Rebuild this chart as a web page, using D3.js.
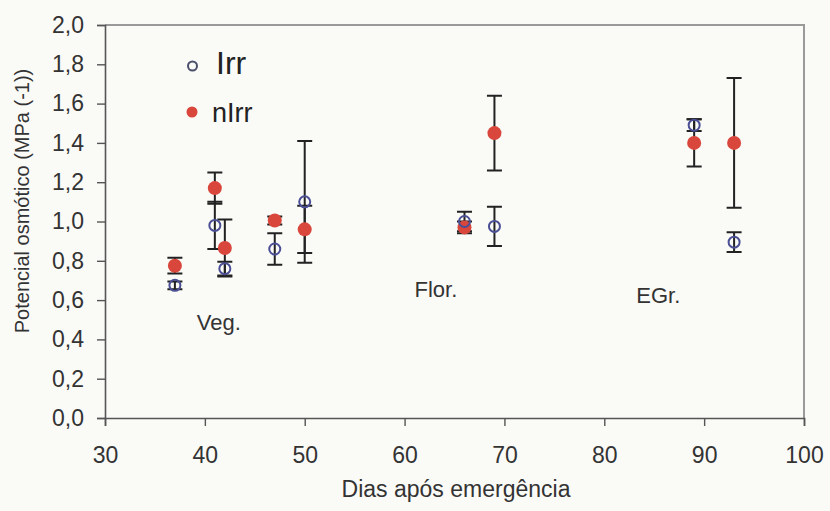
<!DOCTYPE html>
<html>
<head>
<meta charset="utf-8">
<script src="https://cdn.jsdelivr.net/npm/d3@7"></script>
<style>
  html, body { margin: 0; padding: 0; background: #fafaf7; }
  svg { display: block; font-family: "Liberation Sans", Arial, sans-serif; }
</style>
</head>
<body>
<svg id="chart" width="830" height="511"></svg>
<script>
// Osmotic potential by days after emergence, irrigated vs non-irrigated
const irrDays   = [37, 41, 42, 47, 50, 66, 69, 89, 93];
const irrMean   = [0.675, 0.98, 0.76, 0.86, 1.10, 1.00, 0.975, 1.49, 0.895];
const irrErr    = [0.02, 0.12, 0.035, 0.08, 0.31, 0.05, 0.10, 0.03, 0.05];

const nirrDays  = [37, 41, 42, 47, 50, 66, 69, 89, 93];
const nirrMean  = [0.775, 1.17, 0.865, 1.005, 0.96, 0.97, 1.45, 1.40, 1.40];
const nirrErr   = [0.04, 0.08, 0.145, 0.02, 0.12, 0.03, 0.19, 0.12, 0.33];

const xTicks = [30, 40, 50, 60, 70, 80, 90, 100];
const yTicks = [0, 0.2, 0.4, 0.6, 0.8, 1.0, 1.2, 1.4, 1.6, 1.8, 2.0];

const stages = [
  { label: "Veg.",  day: 39.2, value: 0.450 },
  { label: "Flor.", day: 61.0, value: 0.615 },
  { label: "EGr.",  day: 83.2, value: 0.585 }
];

const svg = d3.select("#chart");
const plotLeft = 105, plotRight = 804, plotTop = 25, plotBottom = 418;

const x = d3.scaleLinear().domain([30, 100]).range([plotLeft, plotRight]);
const y = d3.scaleLinear().domain([0, 2]).range([plotBottom, plotTop]);

const fmt = d => d.toFixed(1).replace(".", ",");

// frame (top and right edges)
svg.append("path")
  .attr("d", `M${plotLeft},${plotTop}H${plotRight}V${plotBottom}`)
  .attr("fill", "none").attr("stroke", "#9a9a9a").attr("stroke-width", 2);

// axes
const yAxis = svg.append("g").attr("transform", `translate(${plotLeft},0)`)
  .call(d3.axisLeft(y).tickValues(yTicks).tickFormat(fmt).tickSize(8).tickPadding(13));
const xAxis = svg.append("g").attr("transform", `translate(0,${plotBottom})`)
  .call(d3.axisBottom(x).tickValues(xTicks).tickSize(8).tickPadding(21));

[yAxis, xAxis].forEach(g => {
  g.select(".domain").attr("stroke", "#555").attr("stroke-width", 1.6);
  g.selectAll(".tick line").attr("stroke", "#555").attr("stroke-width", 1.4);
  g.selectAll(".tick text").attr("fill", "#333").attr("font-size", 23)
    .attr("font-family", "'Liberation Sans', Arial, sans-serif");
});

// axis titles
svg.append("text")
  .attr("transform", "translate(29,201) rotate(-90)")
  .attr("text-anchor", "middle").attr("font-size", 20).attr("fill", "#333")
  .text("Potencial osmótico (MPa (-1))");
svg.append("text")
  .attr("x", 456).attr("y", 497)
  .attr("text-anchor", "middle").attr("font-size", 23).attr("fill", "#333")
  .text("Dias após emergência");

// stage labels
svg.selectAll(".stage").data(stages).join("text")
  .attr("class", "stage")
  .attr("x", d => x(d.day)).attr("y", d => y(d.value))
  .attr("font-size", 22).attr("fill", "#333")
  .text(d => d.label);

const irr = irrDays.map((d, i) => ({ day: d, mean: irrMean[i], err: irrErr[i] }));
const nirr = nirrDays.map((d, i) => ({ day: d, mean: nirrMean[i], err: nirrErr[i] }));

function errorBars(data, cls) {
  const g = svg.append("g").attr("class", cls)
    .attr("stroke", "#222").attr("stroke-width", 2).attr("fill", "none");
  g.selectAll("path").data(data).join("path")
    .attr("d", d => {
      const cx = x(d.day), y0 = y(d.mean - d.err), y1 = y(d.mean + d.err), w = 7.5;
      return `M${cx},${y0}V${y1}M${cx - w},${y0}H${cx + w}M${cx - w},${y1}H${cx + w}`;
    });
}
errorBars(irr, "irr-err");
errorBars(nirr, "nirr-err");

// series markers
svg.append("g").selectAll("circle").data(nirr).join("circle")
  .attr("cx", d => x(d.day)).attr("cy", d => y(d.mean)).attr("r", 7)
  .attr("fill", "#d9473c");
svg.append("g").selectAll("circle").data(irr).join("circle")
  .attr("cx", d => x(d.day)).attr("cy", d => y(d.mean)).attr("r", 5.5)
  .attr("fill", "none").attr("stroke", "#4a4f95").attr("stroke-width", 2);

// legend
const legend = svg.append("g");
legend.append("circle").attr("cx", 192.5).attr("cy", 66).attr("r", 4.5)
  .attr("fill", "none").attr("stroke", "#4a4f6a").attr("stroke-width", 2);
legend.append("text").attr("x", 216).attr("y", 74).attr("font-size", 32)
  .attr("fill", "#222").text("Irr");
legend.append("circle").attr("cx", 192).attr("cy", 112).attr("r", 5.5)
  .attr("fill", "#d9473c");
legend.append("text").attr("x", 212).attr("y", 122).attr("font-size", 27)
  .attr("fill", "#222").text("nIrr");
</script>
</body>
</html>
